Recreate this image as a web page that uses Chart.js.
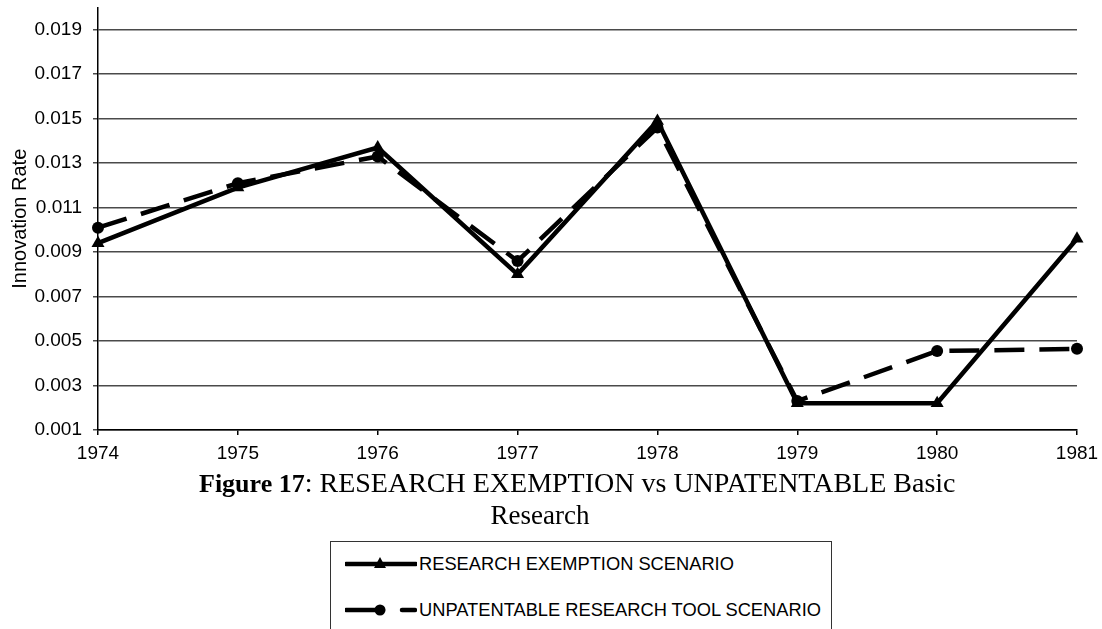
<!DOCTYPE html>
<html>
<head>
<meta charset="utf-8">
<script src="https://cdn.jsdelivr.net/npm/chart.js@4/dist/chart.umd.min.js"></script>
<style>
  html, body { margin: 0; padding: 0; background: #fff; width: 1102px; height: 629px; overflow: hidden; }
  #wrap { position: absolute; left: 0; top: 0; width: 1102px; height: 470px; }
  .cap { position: absolute; white-space: nowrap; color: #000;
    font-family: "Liberation Serif", "Times New Roman", serif; font-size: 28px; line-height: 32px; }
  #cap1 { left: 199px; top: 467px; }
  #cap2 { left: 440px; width: 200px; text-align: center; top: 499px; font-size: 27px; }
  #legend { position: absolute; left: 330px; top: 541px; width: 502px; height: 120px;
    border: 1.5px solid #333; box-sizing: border-box; }
  .row { position: absolute; left: 0; height: 24px; }
  .row svg { position: absolute; left: 14px; top: 2px; }
  .row span { position: absolute; left: 88px; top: 0; line-height: 24px; white-space: nowrap;
    font-family: "Liberation Sans", Arial, sans-serif; font-size: 18.3px; color: #000; }
</style>
</head>
<body>
<div id="wrap"><canvas id="c" width="1102" height="470"></canvas></div>
<div class="cap" id="cap1"><b style="font-size:26px">Figure 17</b>: RESEARCH EXEMPTION vs UNPATENTABLE Basic</div>
<div class="cap" id="cap2">Research</div>
<div id="legend">
  <div class="row" style="top:10px">
    <svg width="72" height="20"><line x1="1" y1="10" x2="71" y2="10" stroke="#000" stroke-width="4.5" stroke-linecap="round"/><polygon points="35,3 41,14 29,14" fill="#000"/></svg>
    <span id="lg1"></span>
  </div>
  <div class="row" style="top:56px">
    <svg width="72" height="20"><line x1="1" y1="10" x2="38" y2="10" stroke="#000" stroke-width="4.5" stroke-linecap="round"/><circle cx="35" cy="10" r="5.5" fill="#000"/><line x1="57" y1="10" x2="70" y2="10" stroke="#000" stroke-width="4.5" stroke-linecap="round"/></svg>
    <span id="lg2"></span>
  </div>
</div>
<script>
const years = ["1974", "1975", "1976", "1977", "1978", "1979", "1980", "1981"];
const researchExemption = [0.0094, 0.0119, 0.0137, 0.0080, 0.0149, 0.0022, 0.0022, 0.0096];
const unpatentableTool  = [0.0101, 0.0121, 0.0133, 0.0086, 0.0146, 0.0023, 0.00455, 0.00465];
const seriesNames = ["RESEARCH EXEMPTION SCENARIO", "UNPATENTABLE RESEARCH TOOL SCENARIO"];
const yTickValues = [0.001, 0.003, 0.005, 0.007, 0.009, 0.011, 0.013, 0.015, 0.017, 0.019];
const yAxisTitle = "Innovation Rate";

document.getElementById('lg1').textContent = seriesNames[0];
document.getElementById('lg2').textContent = seriesNames[1];

const tickFont = { family: "'Liberation Sans', Arial, sans-serif", size: 19 };

new Chart(document.getElementById('c'), {
  type: 'line',
  data: {
    labels: years,
    datasets: [
      {
        label: seriesNames[0],
        data: researchExemption,
        borderColor: '#000',
        backgroundColor: '#000',
        borderWidth: 4.5,
        pointStyle: 'triangle',
        pointRadius: 7.5,
        pointBorderWidth: 0,
        pointBackgroundColor: '#000',
        tension: 0
      },
      {
        label: seriesNames[1],
        data: unpatentableTool,
        borderColor: '#000',
        backgroundColor: '#000',
        borderWidth: 4.5,
        borderDash: [30, 15],
        pointStyle: 'circle',
        pointRadius: 6,
        pointBorderWidth: 0,
        pointBackgroundColor: '#000',
        tension: 0
      }
    ]
  },
  options: {
    responsive: false,
    animation: false,
    devicePixelRatio: 1,
    layout: { padding: { top: 7, right: 25, left: 0, bottom: 0 } },
    plugins: { legend: { display: false }, title: { display: false }, tooltip: { enabled: false } },
    scales: {
      x: {
        type: 'category',
        offset: false,
        grid: { drawOnChartArea: false, drawTicks: true, tickLength: 5, color: '#000', lineWidth: 1.5 },
        border: { display: true, color: '#000', width: 1.5 },
        ticks: { color: '#000', font: tickFont, padding: 7, maxRotation: 0, autoSkip: false },
        afterFit: (s) => { s.height = 40; s.paddingLeft = 0; s.paddingRight = 0; }
      },
      y: {
        min: 0.001,
        max: 0.020,
        afterBuildTicks: (s) => { s.ticks = yTickValues.map(v => ({ value: v })); },
        grid: { drawOnChartArea: true, drawTicks: true, tickLength: 5, color: '#4a4a4a', lineWidth: 1.5 },
        border: { display: true, color: '#000', width: 1.5 },
        ticks: { color: '#000', font: tickFont, padding: 11, callback: (v) => Number(v).toFixed(3) },
        title: { display: true, text: yAxisTitle, color: '#000', font: { family: tickFont.family, size: 20 }, padding: { top: 8, bottom: 0 } },
        afterFit: (s) => { s.width = 98; s.paddingTop = 0; s.paddingBottom = 0; }
      }
    }
  }
});
</script>
</body>
</html>
